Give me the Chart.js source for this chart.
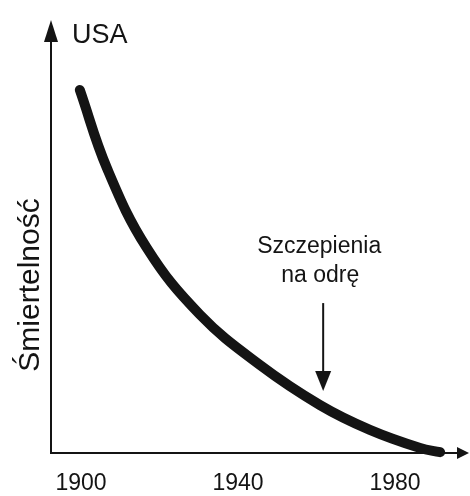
<!DOCTYPE html>
<html>
<head>
<meta charset="utf-8">
<script src="https://cdn.jsdelivr.net/npm/chart.js@4.4.1/dist/chart.umd.min.js"></script>
<style>
  html, body { margin: 0; padding: 0; background: #fff; }
  #wrap { width: 470px; height: 496px; }
</style>
</head>
<body>
<div id="wrap"><canvas id="c" width="470" height="496"></canvas></div>
<script>
// ---- data ----
const years = [1899.7, 1906.6, 1916.8, 1930.3, 1945.6, 1960.9, 1973.6, 1986.4, 1991.5];
const mortality = [87.9, 69.0, 49.6, 33.5, 21.3, 11.6, 5.6, 1.2, 0.2];
const tickYears = [1900, 1940, 1980];
const countryLabel = 'USA';
const yTitle = 'Śmiertelność';
const vaccineYear = 1961.7;
const vaccineLabel = ['Szczepienia', 'na odrę'];

const FONT = '"Liberation Sans", Arial, Helvetica, sans-serif';
const INK = '#141414';

const decor = {
  id: 'decor',
  afterDraw(chart) {
    const ctx = chart.ctx;
    const a = chart.chartArea;
    const xs = chart.scales.x, ys = chart.scales.y;
    ctx.save();
    ctx.fillStyle = INK;
    ctx.strokeStyle = INK;
    // y axis arrowhead
    ctx.beginPath();
    ctx.moveTo(a.left, 20);
    ctx.lineTo(a.left - 7, 42);
    ctx.lineTo(a.left + 7, 42);
    ctx.closePath();
    ctx.fill();
    // x axis arrowhead
    ctx.beginPath();
    ctx.moveTo(469, a.bottom);
    ctx.lineTo(457, a.bottom - 6);
    ctx.lineTo(457, a.bottom + 6);
    ctx.closePath();
    ctx.fill();
    // country label
    ctx.font = '27px ' + FONT;
    ctx.textAlign = 'left';
    ctx.textBaseline = 'alphabetic';
    ctx.fillText(countryLabel, 72, 43);
    // y title
    ctx.save();
    ctx.translate(31, 285);
    ctx.rotate(-Math.PI / 2);
    ctx.font = '30px ' + FONT;
    ctx.textAlign = 'center';
    ctx.textBaseline = 'middle';
    ctx.fillText(yTitle, 0, 0);
    ctx.restore();
    // vaccine annotation
    const vx = xs.getPixelForValue(vaccineYear);
    ctx.font = '23px ' + FONT;
    ctx.textAlign = 'center';
    ctx.textBaseline = 'alphabetic';
    ctx.fillText(vaccineLabel[0], vx - 4, ys.getPixelForValue(48.4));
    ctx.fillText(vaccineLabel[1], vx - 3, ys.getPixelForValue(41.4));
    const yTop = ys.getPixelForValue(36.3);
    const yTip = ys.getPixelForValue(15.0);
    ctx.lineWidth = 2;
    ctx.beginPath();
    ctx.moveTo(vx, yTop);
    ctx.lineTo(vx, yTip - 10);
    ctx.stroke();
    ctx.beginPath();
    ctx.moveTo(vx, yTip);
    ctx.lineTo(vx - 8, yTip - 20);
    ctx.lineTo(vx + 8, yTip - 20);
    ctx.closePath();
    ctx.fill();
    ctx.restore();
  }
};

new Chart(document.getElementById('c'), {
  type: 'line',
  data: {
    datasets: [{
      data: years.map((y, i) => ({ x: y, y: mortality[i] })),
      borderColor: INK,
      borderWidth: 10,
      borderCapStyle: 'round',
      borderJoinStyle: 'round',
      tension: 0.4,
      pointRadius: 0,
      fill: false,
      clip: 12
    }]
  },
  options: {
    responsive: false,
    animation: false,
    devicePixelRatio: 1,
    layout: { padding: { left: 51, right: 10, top: 40, bottom: 2 } },
    plugins: { legend: { display: false }, tooltip: { enabled: false } },
    scales: {
      x: {
        type: 'linear',
        min: 1892.36,
        max: 1996.56,
        afterBuildTicks: (s) => { s.ticks = tickYears.map(v => ({ value: v })); },
        afterFit: (s) => { s.height = 41; },
        grid: { display: false, drawTicks: false },
        border: { display: true, color: INK, width: 2 },
        ticks: {
          color: INK,
          padding: 19,
          maxRotation: 0,
          autoSkip: false,
          font: { family: FONT, size: 23, lineHeight: 1 },
          callback: (v) => String(v)
        }
      },
      y: {
        type: 'linear',
        min: 0,
        max: 100,
        grid: { display: false, drawTicks: false },
        border: { display: true, color: INK, width: 2 },
        ticks: { display: false }
      }
    }
  },
  plugins: [decor]
});
</script>
</body>
</html>
